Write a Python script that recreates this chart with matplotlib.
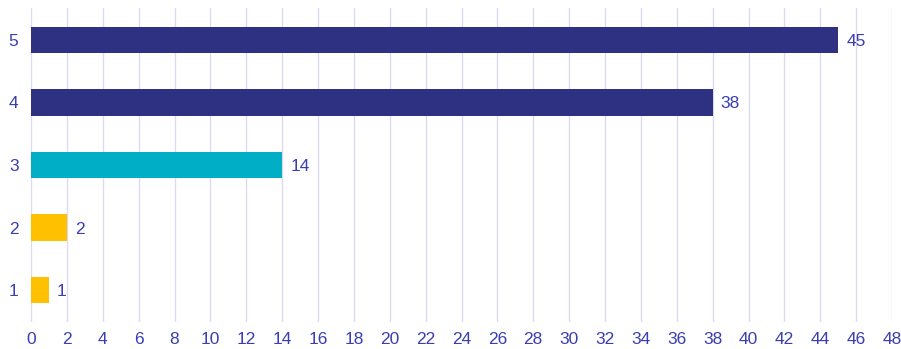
import matplotlib.pyplot as plt

categories = ['1', '2', '3', '4', '5']
values = [1, 2, 14, 38, 45]
bar_colors = ['#FFC000', '#FFC000', '#00AFC6', '#2E3181', '#2E3181']
x_ticks = list(range(0, 50, 2))

text_color = '#3A3DB4'
plt.rcParams['font.family'] = ['Liberation Sans', 'DejaVu Sans']

fig = plt.figure(figsize=(9.01, 3.49), dpi=100)
ax = fig.add_axes([31 / 901, 1 - 322 / 349, (892 - 31) / 901, (322 - 8) / 349])

ypos = list(range(len(categories)))
ax.barh(ypos, values, height=0.42, color=bar_colors, zorder=3)
for y, v in zip(ypos, values):
    ax.text(v + 0.45, y, str(v), va='center_baseline', ha='left', fontsize=12.5, color=text_color)

ax.set_xlim(0, 48)
ax.set_ylim(-0.51, len(categories) - 0.49)
ax.set_xticks(x_ticks)
ax.set_yticks(ypos)
ax.set_yticklabels(categories)
ax.tick_params(axis='both', length=0, labelsize=12.5, labelcolor=text_color)
ax.tick_params(axis='x', pad=7)
ax.tick_params(axis='y', pad=9)
ax.grid(axis='x', color='#DADAF0', linewidth=1, zorder=0)
for s in ax.spines.values():
    s.set_visible(False)

fig.savefig('out.png', dpi=100)
